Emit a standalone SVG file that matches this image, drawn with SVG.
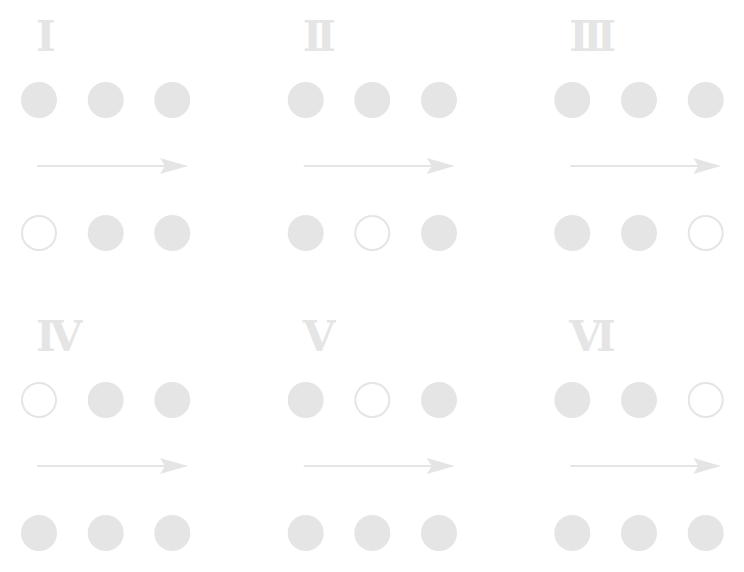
<svg xmlns="http://www.w3.org/2000/svg" width="744" height="572" viewBox="0 0 744 572">
<style>
.f{fill:#e5e5e5}
.o{fill:none;stroke:#e5e5e5;stroke-width:2}
.a{stroke:#e5e5e5;stroke-width:2;fill:none}
.l{font-family:"DejaVu Serif","Liberation Serif",serif;font-weight:bold;font-size:42px;letter-spacing:-6px;fill:#e5e5e5}
</style>
<defs>
<marker id="ah" viewBox="0 0 28 16" markerWidth="28" markerHeight="16" refX="10" refY="8" orient="auto" markerUnits="userSpaceOnUse">
<path d="M0,0 L28,8 L0,16 L5,8 Z" fill="#e5e5e5"/>
</marker>
</defs>
<rect width="744" height="572" fill="#fff"/>
<g id="panel-I">
<text class="l" x="36" y="51">I</text>
<circle class="f" cx="39" cy="100" r="18"/><circle class="f" cx="105.7" cy="100" r="18"/><circle class="f" cx="172.3" cy="100" r="18"/>
<circle class="o" cx="39" cy="233" r="17"/><circle class="f" cx="105.7" cy="233" r="18"/><circle class="f" cx="172.3" cy="233" r="18"/>
</g>
<g id="panel-II">
<text class="l" x="302.7" y="51">II</text>
<circle class="f" cx="305.7" cy="100" r="18"/><circle class="f" cx="372.3" cy="100" r="18"/><circle class="f" cx="439" cy="100" r="18"/>
<circle class="f" cx="305.7" cy="233" r="18"/><circle class="o" cx="372.3" cy="233" r="17"/><circle class="f" cx="439" cy="233" r="18"/>
</g>
<g id="panel-III">
<text class="l" x="569.3" y="51">III</text>
<circle class="f" cx="572.3" cy="100" r="18"/><circle class="f" cx="639" cy="100" r="18"/><circle class="f" cx="705.7" cy="100" r="18"/>
<circle class="f" cx="572.3" cy="233" r="18"/><circle class="f" cx="639" cy="233" r="18"/><circle class="o" cx="705.7" cy="233" r="17"/>
</g>
<g id="panel-IV">
<text class="l" x="36" y="351">IV</text>
<circle class="o" cx="39" cy="400" r="17"/><circle class="f" cx="105.7" cy="400" r="18"/><circle class="f" cx="172.3" cy="400" r="18"/>
<circle class="f" cx="39" cy="533" r="18"/><circle class="f" cx="105.7" cy="533" r="18"/><circle class="f" cx="172.3" cy="533" r="18"/>
</g>
<g id="panel-V">
<text class="l" x="302.7" y="351">V</text>
<circle class="f" cx="305.7" cy="400" r="18"/><circle class="o" cx="372.3" cy="400" r="17"/><circle class="f" cx="439" cy="400" r="18"/>
<circle class="f" cx="305.7" cy="533" r="18"/><circle class="f" cx="372.3" cy="533" r="18"/><circle class="f" cx="439" cy="533" r="18"/>
</g>
<g id="panel-VI">
<text class="l" x="569.3" y="351">VI</text>
<circle class="f" cx="572.3" cy="400" r="18"/><circle class="f" cx="639" cy="400" r="18"/><circle class="o" cx="705.7" cy="400" r="17"/>
<circle class="f" cx="572.3" cy="533" r="18"/><circle class="f" cx="639" cy="533" r="18"/><circle class="f" cx="705.7" cy="533" r="18"/>
</g>
<g id="connectors">
<line class="a" x1="37" y1="166" x2="170" y2="166" marker-end="url(#ah)"/>
<line class="a" x1="303.7" y1="166" x2="436.7" y2="166" marker-end="url(#ah)"/>
<line class="a" x1="570.3" y1="166" x2="703.3" y2="166" marker-end="url(#ah)"/>
<line class="a" x1="37" y1="466" x2="170" y2="466" marker-end="url(#ah)"/>
<line class="a" x1="303.7" y1="466" x2="436.7" y2="466" marker-end="url(#ah)"/>
<line class="a" x1="570.3" y1="466" x2="703.3" y2="466" marker-end="url(#ah)"/>
</g>
</svg>
